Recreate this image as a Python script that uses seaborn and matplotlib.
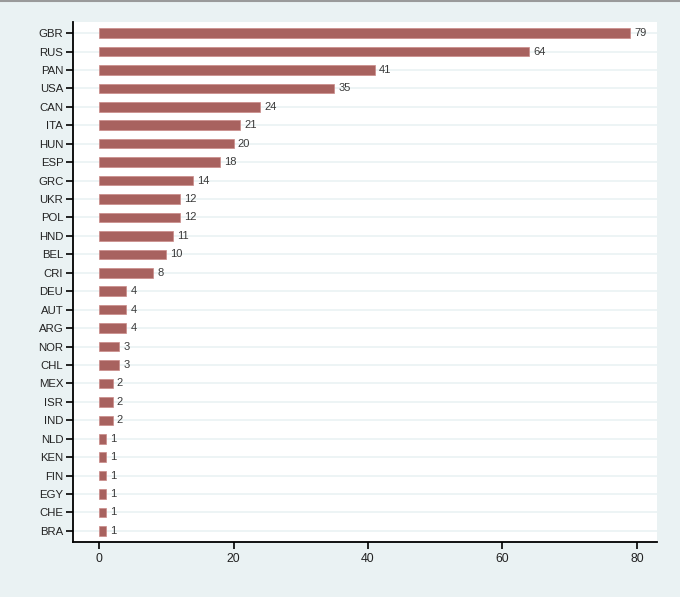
import matplotlib
matplotlib.use("Agg")
import matplotlib.pyplot as plt
import seaborn as sb
import pandas as pd
from matplotlib.lines import Line2D

# Data
countries = ["GBR", "RUS", "PAN", "USA", "CAN", "ITA", "HUN", "ESP", "GRC",
             "UKR", "POL", "HND", "BEL", "CRI", "DEU", "AUT", "ARG", "NOR",
             "CHL", "MEX", "ISR", "IND", "NLD", "KEN", "FIN", "EGY", "CHE",
             "BRA"]
counts = [79, 64, 41, 35, 24, 21, 20, 18, 14, 12, 12, 11, 10, 8,
          4, 4, 4, 3, 3, 2, 2, 2, 1, 1, 1, 1, 1, 1]
x_ticks = [0, 20, 40, 60, 80]

df = pd.DataFrame({"country": countries, "count": counts})

bg = "#eaf2f3"
bar_color = "#a8625f"

sb.set_style("white")
plt.rcParams["font.family"] = ["Liberation Sans", "DejaVu Sans"]

fig = plt.figure(figsize=(6.8, 5.97), dpi=100, facecolor=bg)
ax = fig.add_axes([73 / 680, 55 / 597, (657 - 73) / 680, (542 - 22) / 597])
ax.set_facecolor("white")

sb.barplot(data=df, x="count", y="country", color=bar_color,
           saturation=1, width=0.52, ax=ax, zorder=3,
           edgecolor="#c98a88", linewidth=0.5)

ax.bar_label(ax.containers[0], labels=[str(v) for v in counts],
             padding=3, fontsize=8, color="#3a3a3a")

for i in range(len(countries)):
    ax.axhline(i, color=bg, lw=1.2, zorder=1)

ax.set_xlim(-3.9, 83)
ax.set_ylim(len(countries) - 0.4, -0.6)
ax.set_xticks(x_ticks)
ax.set_xlabel("")
ax.set_ylabel("")

for side in ["top", "right"]:
    ax.spines[side].set_visible(False)
for side in ["left", "bottom"]:
    ax.spines[side].set_color("black")
    ax.spines[side].set_linewidth(1.3)

ax.tick_params(axis="both", which="major", length=5, width=1.2,
               color="black", labelcolor="#222222", left=True, bottom=True)
ax.tick_params(axis="y", labelsize=8.2, pad=2)
ax.tick_params(axis="x", labelsize=8.8, pad=3)

# thin grey border at the top of the image
fig.add_artist(Line2D([0, 1], [0.998, 0.998], transform=fig.transFigure,
                      color="#9a9a9a", lw=1.5))

fig.savefig("out.png", dpi=100, facecolor=bg)
